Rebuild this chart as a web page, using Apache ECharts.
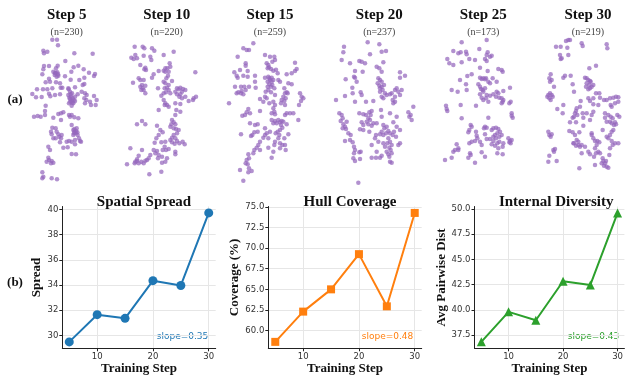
<!DOCTYPE html>
<html><head><meta charset="utf-8">
<script src="https://cdn.jsdelivr.net/npm/echarts@6/dist/echarts.min.js"></script>
<style>html,body{margin:0;padding:0;background:#fff}#c{width:626px;height:377px}</style>
</head><body><div id="c"></div>
<script>
// ---------- data ----------
const stepTitles = ['Step 5','Step 10','Step 15','Step 20','Step 25','Step 30'];
const stepCounts = ['(n=230)','(n=220)','(n=259)','(n=237)','(n=173)','(n=219)'];
// point positions (panel-local units, 3 units = 1 px)
const step5Pts = [[82,14],[96,14],[99,31],[55,47],[67,50],[57,55],[148,55],[203,56],[121,78],[57,93],[72,93],[98,92],[93,100],[146,97],[160,92],[176,103],[55,103],[52,118],[85,110],[92,113],[99,118],[89,120],[95,125],[72,131],[139,110],[192,113],[210,117],[207,123],[120,124],[178,128],[62,142],[75,140],[93,142],[105,145],[137,134],[163,135],[178,147],[173,150],[107,158],[112,158],[130,160],[150,157],[82,160],[36,163],[54,163],[67,163],[72,176],[22,177],[50,186],[76,184],[33,187],[105,178],[90,180],[131,163],[135,170],[141,175],[130,180],[138,185],[135,192],[140,197],[132,205],[145,205],[140,212],[150,185],[158,178],[150,198],[170,170],[180,175],[185,180],[178,190],[184,195],[180,205],[195,200],[207,183],[212,210],[215,195],[198,210],[62,212],[60,228],[60,240],[27,245],[38,243],[47,245],[85,248],[100,237],[108,235],[115,232],[132,240],[140,240],[135,245],[148,247],[160,250],[108,255],[82,278],[92,280],[78,290],[80,298],[95,290],[100,298],[103,305],[110,300],[108,310],[92,310],[85,310],[140,270],[145,285],[148,290],[155,280],[152,295],[158,300],[145,300],[162,310],[165,318],[150,315],[140,320],[132,318],[125,320],[105,322],[115,338],[128,337],[168,320],[150,328],[140,357],[153,358],[70,335],[75,345],[70,368],[65,380],[72,375],[80,378],[85,383],[78,385],[52,412],[55,425],[52,430],[80,430],[96,433],[137,178],[143,190],[136,200],[142,203],[133,188],[146,195],[148,282],[153,288],[147,295],[157,292],[90,115],[97,112],[100,122]];
const step10Pts = [[38,35],[62,35],[67,40],[90,40],[97,47],[155,50],[28,68],[35,72],[45,70],[40,60],[65,62],[85,65],[88,75],[125,60],[143,85],[145,95],[55,90],[70,98],[72,105],[67,103],[110,108],[125,107],[130,100],[136,100],[130,110],[140,110],[220,112],[95,118],[90,128],[50,130],[55,135],[33,143],[65,135],[138,122],[133,130],[150,138],[125,140],[130,145],[140,150],[135,158],[128,160],[140,165],[132,172],[125,175],[118,182],[145,175],[60,150],[55,155],[62,160],[58,165],[65,165],[70,152],[70,175],[108,160],[165,160],[170,163],[175,158],[183,162],[190,165],[180,170],[175,178],[172,185],[180,190],[165,178],[160,170],[200,198],[215,190],[222,185],[213,195],[190,185],[125,195],[130,205],[135,210],[140,215],[128,210],[160,205],[175,207],[110,225],[163,225],[175,230],[160,240],[150,255],[155,262],[148,268],[160,268],[145,275],[155,280],[162,282],[170,285],[165,295],[155,300],[150,308],[160,310],[165,318],[172,325],[182,320],[188,328],[145,315],[150,322],[158,326],[130,320],[128,335],[132,345],[140,342],[122,345],[118,322],[110,300],[103,310],[98,323],[45,268],[60,258],[70,268],[105,272],[115,285],[122,292],[95,345],[105,348],[100,355],[110,360],[120,365],[108,370],[85,360],[80,370],[75,375],[60,345],[50,362],[45,373],[40,380],[50,385],[58,380],[65,385],[70,377],[15,388],[25,340],[135,370],[160,350],[160,358],[130,380],[120,383],[82,418],[118,410],[38,385],[45,378]];
const step15Pts = [[85,25],[55,40],[65,45],[72,45],[38,65],[120,60],[135,65],[148,65],[150,75],[142,80],[125,85],[130,90],[132,97],[138,102],[128,100],[62,85],[62,92],[68,108],[45,105],[28,112],[35,122],[38,128],[55,122],[68,125],[90,122],[145,107],[153,104],[158,115],[185,118],[200,115],[210,108],[215,102],[210,83],[30,155],[48,155],[58,155],[72,155],[62,165],[50,168],[48,175],[40,172],[55,178],[35,175],[90,140],[92,158],[120,128],[130,125],[133,130],[140,128],[135,135],[145,135],[128,140],[140,140],[133,148],[142,150],[138,155],[128,155],[148,160],[130,165],[122,170],[138,172],[150,180],[160,135],[165,140],[190,145],[200,148],[178,160],[185,172],[180,175],[188,175],[175,185],[182,190],[178,198],[170,195],[168,205],[180,210],[225,175],[230,185],[235,190],[228,198],[222,210],[120,185],[125,190],[105,192],[115,200],[133,205],[145,200],[150,210],[12,205],[145,220],[148,230],[140,235],[150,238],[70,222],[65,232],[75,235],[60,240],[52,242],[105,228],[185,235],[180,240],[195,235],[205,235],[220,255],[140,255],[145,265],[150,258],[155,265],[160,255],[165,262],[170,258],[175,260],[168,270],[172,278],[185,268],[165,285],[158,290],[152,295],[163,300],[160,310],[75,265],[90,270],[98,268],[120,280],[135,290],[88,292],[82,300],[78,303],[98,290],[125,295],[120,300],[115,308],[130,310],[150,320],[165,325],[172,330],[180,330],[178,310],[190,298],[165,340],[182,345],[148,330],[48,298],[105,320],[100,330],[95,338],[105,345],[88,345],[85,355],[130,338],[145,350],[70,358],[72,370],[65,375],[62,385],[68,388],[140,368],[45,405],[72,400],[80,408],[70,412],[55,437]];
const step20Pts = [[113,22],[148,28],[42,35],[40,52],[120,58],[155,50],[168,48],[35,75],[60,85],[88,78],[95,80],[105,85],[140,95],[148,100],[160,82],[155,110],[75,108],[98,110],[72,125],[75,128],[47,133],[80,140],[145,130],[150,135],[155,140],[143,145],[148,152],[155,155],[150,160],[162,150],[158,165],[150,170],[165,175],[155,185],[160,190],[170,180],[180,178],[185,175],[195,165],[200,160],[205,170],[195,185],[188,195],[195,200],[210,180],[215,165],[210,128],[225,122],[210,112],[67,158],[68,175],[92,172],[95,180],[45,183],[18,195],[75,200],[108,200],[130,198],[190,205],[28,235],[35,240],[38,250],[32,258],[40,268],[45,275],[38,280],[50,260],[48,282],[88,235],[100,238],[108,240],[118,232],[125,228],[122,240],[115,250],[110,260],[95,262],[100,270],[115,268],[125,272],[130,265],[120,255],[140,265],[153,225],[155,245],[180,235],[200,245],[235,232],[242,240],[238,245],[245,255],[250,215],[190,262],[200,275],[210,285],[160,270],[163,280],[170,275],[155,290],[150,298],[160,300],[168,295],[175,288],[180,295],[188,300],[192,290],[198,305],[210,325],[205,330],[175,310],[180,320],[172,325],[185,330],[178,338],[182,345],[170,350],[175,358],[185,355],[178,365],[180,380],[185,383],[165,335],[160,325],[145,320],[138,300],[135,310],[125,330],[140,350],[155,362],[150,368],[138,368],[125,368],[62,300],[60,315],[68,322],[72,335],[75,345],[72,355],[70,370],[75,378],[88,352],[92,350],[90,372],[118,290],[90,283],[100,285],[45,318],[55,295],[85,443]];
const step25Pts = [[65,22],[140,15],[40,48],[55,55],[62,52],[78,50],[80,58],[118,42],[143,52],[140,60],[150,65],[155,62],[135,72],[140,78],[105,75],[88,72],[22,72],[28,85],[40,90],[65,82],[120,98],[143,108],[175,102],[185,105],[188,110],[95,118],[82,123],[60,135],[78,148],[80,165],[120,128],[125,132],[130,130],[135,133],[138,130],[145,140],[150,145],[158,130],[170,140],[115,148],[120,155],[123,162],[128,165],[135,160],[130,170],[120,178],[125,188],[130,195],[138,190],[145,200],[140,180],[150,182],[160,178],[170,170],[175,175],[168,185],[178,188],[185,190],[190,195],[188,200],[185,205],[190,168],[210,158],[212,200],[208,205],[35,165],[53,170],[18,212],[20,222],[22,228],[62,210],[108,212],[215,235],[215,242],[218,248],[65,250],[145,248],[92,270],[95,275],[88,285],[85,292],[108,290],[110,302],[112,310],[95,320],[88,325],[105,318],[120,320],[125,330],[135,275],[132,280],[140,278],[155,285],[160,280],[168,278],[175,282],[180,290],[172,295],[165,300],[160,305],[168,310],[178,305],[185,300],[160,318],[155,328],[165,332],[172,325],[178,320],[190,325],[188,335],[175,340],[172,355],[188,358],[150,312],[135,298],[140,312],[205,310],[210,318],[215,315],[212,325],[208,322],[50,328],[55,340],[45,345],[40,350],[55,345],[90,355],[92,360],[85,368],[125,352],[135,365],[105,383],[15,375],[35,368]];
const step30Pts = [[78,18],[85,15],[90,15],[125,25],[128,33],[200,28],[202,40],[48,35],[62,35],[82,38],[60,60],[62,72],[65,70],[85,60],[148,100],[168,92],[32,118],[28,130],[35,135],[30,140],[70,128],[75,122],[92,122],[98,148],[102,170],[135,128],[140,130],[145,135],[150,138],[140,145],[148,150],[138,155],[150,160],[145,163],[155,155],[160,150],[152,140],[25,180],[30,175],[35,180],[28,190],[38,185],[32,195],[22,185],[42,155],[52,222],[70,210],[68,235],[122,198],[120,215],[145,190],[150,198],[160,190],[168,175],[178,175],[180,188],[175,210],[160,208],[192,195],[200,195],[210,190],[220,188],[228,185],[235,187],[212,210],[215,215],[225,205],[235,200],[110,220],[108,228],[105,235],[102,245],[112,240],[98,248],[128,235],[130,248],[140,235],[160,230],[155,240],[150,255],[90,262],[108,262],[130,272],[195,235],[205,240],[212,245],[218,250],[210,260],[215,265],[225,262],[222,270],[228,268],[232,240],[238,245],[195,248],[200,260],[220,285],[215,290],[210,300],[205,310],[215,318],[225,325],[235,325],[218,330],[210,340],[208,360],[188,285],[200,305],[155,300],[160,310],[165,318],[172,318],[178,322],[170,330],[165,340],[175,350],[168,355],[180,355],[145,350],[150,358],[155,295],[88,288],[98,292],[118,292],[105,300],[110,315],[102,325],[108,332],[115,330],[120,335],[125,330],[115,320],[135,335],[125,355],[100,325],[25,290],[28,300],[35,298],[32,305],[40,345],[45,342],[42,350],[28,362],[25,380],[50,378],[188,370],[190,378],[185,385],[195,385],[192,392],[200,395],[205,398],[198,378],[118,400],[165,390],[162,365]];
const stepPoints = [step5Pts, step10Pts, step15Pts, step20Pts, step25Pts, step30Pts];

const trainSteps = [5, 10, 15, 20, 25, 30];
const spreadVals = [29.49, 31.65, 31.36, 34.35, 33.97, 39.73];
const coverageVals = [58.63, 62.3, 65.0, 69.27, 62.94, 74.27];
const diversityVals = [36.83, 39.8, 38.97, 42.83, 42.47, 49.6];
const xTickVals = [10, 20, 30];
const spreadTicks = [30, 32, 34, 36, 38, 40];
const coverageTicks = [60, 62.5, 65, 67.5, 70, 72.5, 75];
const diversityTicks = [37.5, 40, 42.5, 45, 47.5, 50];
const metricTitles = ['Spatial Spread', 'Hull Coverage', 'Internal Diversity'];
const metricYNames = ['Spread', 'Coverage (%)', 'Avg Pairwise Dist'];
const slopeTexts = ['slope=0.35', 'slope=0.48', 'slope=0.43'];

// ---------- layout ----------
const SERIF = '"Liberation Serif", "DejaVu Serif", serif';
const SANS = '"DejaVu Sans", sans-serif';
const scatterBoxes = [
  {left:25, w:80}, {left:122, w:80}, {left:225, w:95},
  {left:330, w:90}, {left:440, w:80}, {left:540, w:80}];
const titleCenters = [61.7, 161.7, 265, 374.3, 478.3, 583];
const lineBoxes = [
  {left:62.3, width:153.4, ymin:28.98, ymax:40.24, vals:spreadVals, ticks:spreadTicks, color:'#1f77b4', sym:'circle', size:9, dec:0, gap:17},
  {left:268.3, width:153.4, ymin:57.85, ymax:75.05, vals:coverageVals, ticks:coverageTicks, color:'#ff7f0e', sym:'rect', size:8, dec:1, gap:25},
  {left:474.5, width:153.4, ymin:36.19, ymax:50.24, vals:diversityVals, ticks:diversityTicks, color:'#2ca02c', sym:'triangle', size:9, dec:1, gap:24}];

const grids = [], xAxes = [], yAxes = [], series = [], titles = [], graphics = [];

scatterBoxes.forEach((b, i) => {
  grids.push({left:b.left, top:35, width:b.w, height:150});
  xAxes.push({type:'value', gridIndex:i, min:0, max:b.w*3, show:false});
  yAxes.push({type:'value', gridIndex:i, min:0, max:450, inverse:true, show:false});
  series.push({type:'scatter', xAxisIndex:i, yAxisIndex:i, data:stepPoints[i], symbolSize:4.5,
    itemStyle:{color:'#9467bd', opacity:0.72}, silent:true, animation:false});
  titles.push({text:stepTitles[i], left:titleCenters[i], top:3, textAlign:'center',
    textStyle:{fontFamily:SERIF, fontWeight:'bold', fontSize:15, color:'#111'}});
  titles.push({text:stepCounts[i], left:titleCenters[i], top:22, textAlign:'center',
    textStyle:{fontFamily:SERIF, fontWeight:'normal', fontSize:10, color:'#444'}});
});

lineBoxes.forEach((b, k) => {
  const gi = 6 + k;
  grids.push({left:b.left, top:206.5, width:b.width, height:141.8});
  xAxes.push({type:'value', gridIndex:gi, min:3.75, max:31.25,
    name:'Training Step', nameLocation:'middle', nameGap:14,
    nameTextStyle:{fontFamily:SERIF, fontWeight:'bold', fontSize:13, color:'#111'},
    axisLine:{show:true, lineStyle:{color:'#222', width:1}},
    axisTick:{show:true, length:3, customValues:xTickVals, lineStyle:{color:'#222'}},
    axisLabel:{customValues:xTickVals, fontFamily:SANS, fontSize:8.5, color:'#333', margin:4},
    splitLine:{show:true, lineStyle:{color:'#e6e6e6', width:1}}});
  yAxes.push({type:'value', gridIndex:gi, min:b.ymin, max:b.ymax,
    name:metricYNames[k], nameLocation:'middle', nameGap:b.gap,
    nameTextStyle:{fontFamily:SERIF, fontWeight:'bold', fontSize:13, color:'#111'},
    axisLine:{show:true, lineStyle:{color:'#222', width:1}},
    axisTick:{show:true, length:3, customValues:b.ticks, lineStyle:{color:'#222'}},
    axisLabel:{customValues:b.ticks, fontFamily:SANS, fontSize:8.5, color:'#333', margin:4,
      formatter: v => v.toFixed(b.dec)},
    splitLine:{show:true, lineStyle:{color:'#e6e6e6', width:1}}});
  series.push({type:'line', xAxisIndex:gi, yAxisIndex:gi,
    data: trainSteps.map((s, j) => [s, b.vals[j]]),
    symbol:b.sym, symbolSize:b.size, showSymbol:true,
    lineStyle:{color:b.color, width:2}, itemStyle:{color:b.color}, animation:false, silent:true});
  titles.push({text:metricTitles[k], left:b.left + 76.7, top:190, textAlign:'center',
    textStyle:{fontFamily:SERIF, fontWeight:'bold', fontSize:15, color:'#111'}});
});

const slopePos = [[208.3, 337], [413.3, 337], [619.3, 337]];
slopeTexts.forEach((t, k) => {
  graphics.push({type:'text', x:slopePos[k][0], y:slopePos[k][1],
    style:{text:t, fill:lineBoxes[k].color, font:'9px "DejaVu Sans", sans-serif', textAlign:'right', textVerticalAlign:'middle'}});
});
graphics.push({type:'text', x:15, y:100, style:{text:'(a)', fill:'#111', font:'bold 13px "Liberation Serif", serif', textAlign:'center', textVerticalAlign:'middle'}});
graphics.push({type:'text', x:15, y:283, style:{text:'(b)', fill:'#111', font:'bold 13px "Liberation Serif", serif', textAlign:'center', textVerticalAlign:'middle'}});

const chart = echarts.init(document.getElementById('c'), null, {renderer:'canvas'});
chart.setOption({
  backgroundColor:'#fff', animation:false,
  title:titles, grid:grids, xAxis:xAxes, yAxis:yAxes, series:series, graphic:graphics
});
</script></body></html>
